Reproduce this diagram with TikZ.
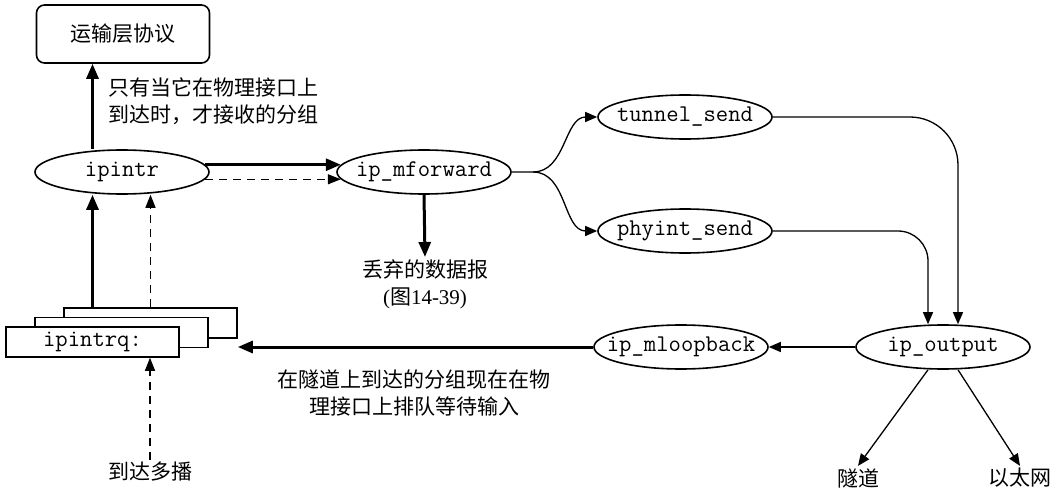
\documentclass[tikz,border=0pt]{standalone}
\usepackage{fontspec}
\setmainfont{Liberation Serif}
\newfontfamily\cjk{Noto Sans CJK SC}
\usetikzlibrary{arrows.meta,shapes.geometric}

\begin{document}
\begin{tikzpicture}[x=0.5pt, y=-0.5pt,
  func/.style={ellipse, draw, line width=0.8pt, minimum width=87pt, minimum height=22pt, inner xsep=-8pt, inner ysep=0pt, font=\fontsize{12}{14}\ttfamily},
  qbox/.style={draw, fill=white, line width=0.8pt, minimum width=86.5pt, minimum height=15pt, inner sep=0pt, font=\fontsize{12}{14}\ttfamily},
  note/.style={font=\fontsize{10.5}{13.5}\cjk, inner sep=1pt},
  arrthin/.style={-{Triangle[length=6pt,width=5pt]}, line width=0.65pt},
  arrthick/.style={-{Triangle[length=7.5pt,width=6pt]}, line width=1.5pt},
  arrdash/.style={-{Triangle[length=6.5pt,width=5pt]}, line width=0.65pt, dash pattern=on 4pt off 3pt}]
\useasboundingbox (0,0) rectangle (1056,492);
% Functions
\node[note, draw, line width=0.8pt, rounded corners=4pt, minimum width=86.5pt, minimum height=29pt] (tl) at (123,34) {运输层协议};
\node[func] (ipintr) at (122,172) {ipintr};
\node[func] (mf) at (424,172) {ip\_mforward};
\node[func] (tunnel) at (685,117) {tunnel\_send};
\node[func] (phyint) at (685,231) {phyint\_send};
\node[func] (out) at (943,347) {ip\_output};
\node[func] (loop) at (681,347) {ip\_mloopback};
% Input queue
\node[qbox] (q3) at (150.5,323) {};
\node[qbox] (q2) at (121.5,332.5) {};
\node[qbox] (q1) at (92.5,342) {ipintrq:};
% Labels
\node[note, anchor=west, align=left] (accept) at (106,101) {只有当它在物理接口上\\到达时，才接收的分组};
\node[note, align=center] (drop) at (425,284) {丢弃的数据报\\{\rmfamily(}图{\rmfamily 14-39)}};
\node[note, align=center] (queue) at (414,393) {在隧道上到达的分组现在在物\\理接口上排队等待输入};
\node[note] (mcast) at (150,472) {到达多播};
\node[note] (tun) at (858,478) {隧道};
\node[note] (eth) at (1020,478) {以太网};
\coordinate (split) at (533,172);
% Arrows
\draw[arrthick] (ipintr.north -| q1.center) -- (tl.south -| q1.center);
\draw[arrthick] (ipintr.5) -- (mf.175);
\draw[arrdash] (ipintr.-5) -- (mf.185);
\draw[arrthick] (mf.south) -- (drop.north);
\draw[arrthin] (mf.east) -- (split) to[out=0,in=180] (tunnel.west);
\draw[arrthin] (split) to[out=0,in=180] (phyint.west);
\draw[arrthin, rounded corners=24pt] (tunnel.east) -| ([xshift=7.5pt]out.north);
\draw[arrthin, rounded corners=15pt] (phyint.east) -| ([xshift=-7.5pt]out.north);
\draw[arrthin] (out.west) -- (loop.east);
\draw[arrthick] (loop.west) -- (loop.west -| q3.east);
\draw[arrthin] ([xshift=-7.5pt]out.south) -- (tun.north);
\draw[arrthin] ([xshift=7.5pt]out.south) -- (eth.north);
\draw[arrthick] (q3.north -| q1.center) -- (ipintr.south -| q1.center);
\draw[arrdash] (q3.north) -- (q3.north |- ipintr.south);
\draw[arrdash] (mcast.north) -- (mcast.north |- q1.south);
\end{tikzpicture}
\end{document}
